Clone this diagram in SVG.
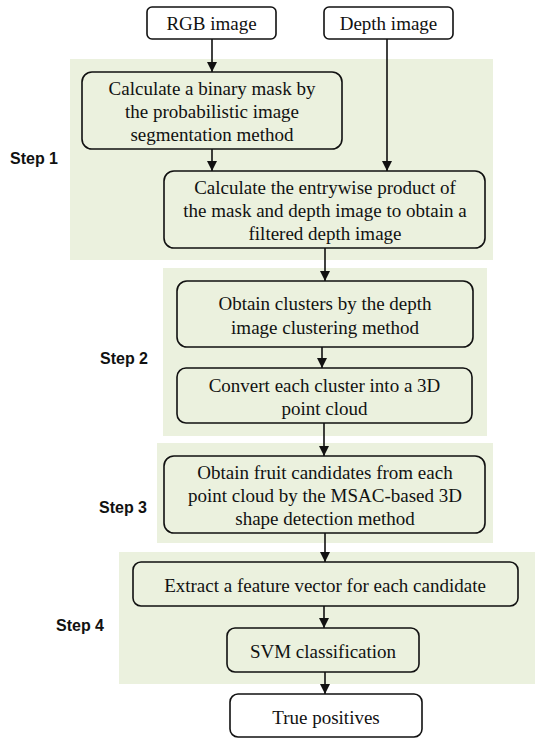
<svg xmlns="http://www.w3.org/2000/svg" width="535" height="739" viewBox="0 0 535 739">
<style>
.bg{fill:#ebf1de;stroke:none}
.box{fill:#ebf1de;stroke:#111;stroke-width:1.6}
.wbox{fill:#fff;stroke:#111;stroke-width:1.6}
.t{font-family:"Liberation Serif","Times New Roman",serif;font-size:19px;fill:#111;text-anchor:middle;dominant-baseline:central}
.s{font-family:"Liberation Sans",Arial,sans-serif;font-size:16px;font-weight:bold;fill:#111;dominant-baseline:central}
.c{stroke:#111;stroke-width:1.6;fill:none;marker-end:url(#ah)}
</style>
<defs>
<marker id="ah" viewBox="0 0 10 10" refX="10" refY="5" markerWidth="10" markerHeight="10" markerUnits="userSpaceOnUse" orient="auto">
<path d="M0,0 L10,5 L0,10 z" fill="#111"/>
</marker>
</defs>
<rect class="bg" x="70" y="59" width="423" height="201"/>
<rect class="bg" x="163" y="268" width="324" height="168"/>
<rect class="bg" x="157" y="443" width="336" height="100"/>
<rect class="bg" x="119" y="552" width="416" height="132"/>
<g id="step-labels">
<text class="s" x="10" y="158">Step 1</text>
<text class="s" x="100" y="358">Step 2</text>
<text class="s" x="99" y="507">Step 3</text>
<text class="s" x="56" y="625">Step 4</text>
</g>
<g id="connectors">
<line class="c" x1="212" y1="39" x2="212" y2="72"/>
<line class="c" x1="387" y1="39" x2="387" y2="171"/>
<line class="c" x1="212" y1="149" x2="212" y2="171"/>
<line class="c" x1="325" y1="248" x2="325" y2="281"/>
<line class="c" x1="322" y1="347" x2="322" y2="368"/>
<line class="c" x1="324" y1="423" x2="324" y2="456"/>
<line class="c" x1="325" y1="533" x2="325" y2="562"/>
<line class="c" x1="324" y1="606" x2="324" y2="628"/>
<line class="c" x1="325" y1="672" x2="325" y2="694"/>
</g>
<g id="rgb">
<rect class="wbox" x="147" y="7" width="129" height="32" rx="5"/>
<text class="t" x="211.5" y="23">RGB image</text>
</g>
<g id="depth">
<rect class="wbox" x="324" y="7" width="129" height="32" rx="5"/>
<text class="t" x="388.5" y="23">Depth image</text>
</g>
<g id="mask">
<rect class="box" x="82" y="72" width="260" height="77" rx="10"/>
<text class="t" x="212" y="88">Calculate a binary mask by</text>
<text class="t" x="212" y="111">the probabilistic image</text>
<text class="t" x="212" y="134">segmentation method</text>
</g>
<g id="product">
<rect class="box" x="164" y="171" width="321" height="77" rx="10"/>
<text class="t" x="325" y="187">Calculate the entrywise product of</text>
<text class="t" x="325" y="210">the mask and depth image to obtain a</text>
<text class="t" x="325" y="233">filtered depth image</text>
</g>
<g id="clusters">
<rect class="box" x="177" y="281" width="296" height="66" rx="10"/>
<text class="t" x="325" y="303">Obtain clusters by the depth</text>
<text class="t" x="325" y="327">image clustering method</text>
</g>
<g id="pointcloud">
<rect class="box" x="177" y="368" width="295" height="55" rx="9"/>
<text class="t" x="324.5" y="385">Convert each cluster into a 3D</text>
<text class="t" x="324.5" y="408">point cloud</text>
</g>
<g id="candidates">
<rect class="box" x="164" y="456" width="321" height="77" rx="10"/>
<text class="t" x="325" y="472">Obtain fruit candidates  from each</text>
<text class="t" x="325" y="495">point cloud by  the MSAC-based  3D</text>
<text class="t" x="325" y="518">shape detection method</text>
</g>
<g id="feature">
<rect class="box" x="133" y="562" width="385" height="44" rx="8"/>
<text class="t" x="325" y="585">Extract a feature vector for each  candidate</text>
</g>
<g id="svm">
<rect class="box" x="227" y="628" width="192" height="44" rx="8"/>
<text class="t" x="323" y="651">SVM classification</text>
</g>
<g id="tp">
<rect class="wbox" x="230" y="694" width="192" height="43" rx="8"/>
<text class="t" x="326" y="717">True positives</text>
</g>
</svg>
